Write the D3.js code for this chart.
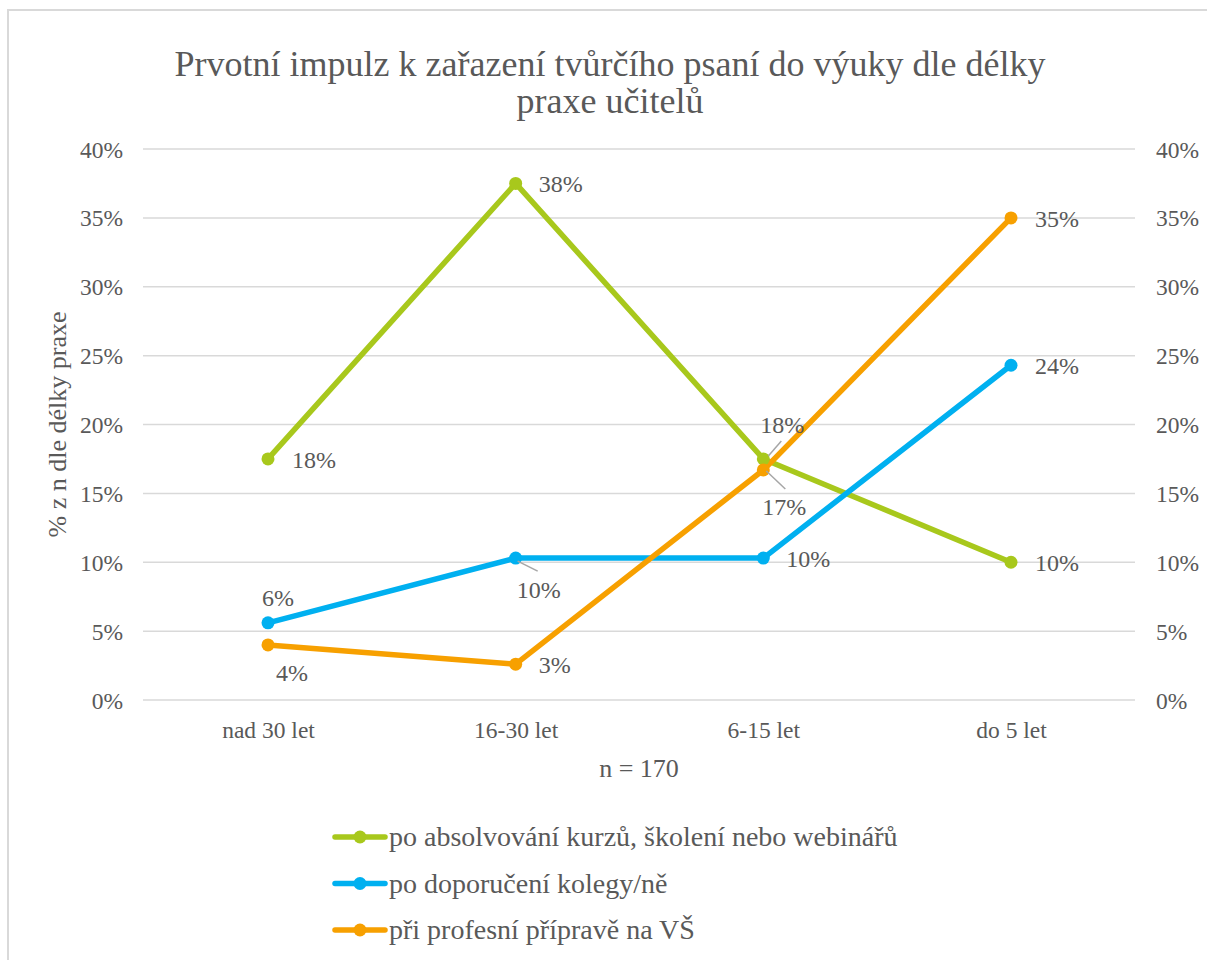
<!DOCTYPE html>
<html>
<head>
<meta charset="utf-8">
<script src="https://cdn.jsdelivr.net/npm/d3@7"></script>
</head>
<body style="margin:0; background:#fff">
<svg id="chart" width="1207" height="960"></svg>
<script>
// ---- data ----
const categories = ["nad 30 let", "16-30 let", "6-15 let", "do 5 let"];
const seriesNames = ["po absolvování kurzů, školení nebo webinářů", "po doporučení kolegy/ně", "při profesní přípravě na VŠ"];
const kurzy = [17.5, 37.5, 17.5, 10.0];
const kolega = [5.6, 10.3, 10.3, 24.3];
const vs = [4.0, 2.6, 16.7, 35.0];
const yTicks = [0, 5, 10, 15, 20, 25, 30, 35, 40];
const titleLines = ["Prvotní impulz k zařazení tvůrčího psaní do výuky dle délky", "praxe učitelů"];
const yTitle = "% z n dle délky praxe";
const xTitle = "n = 170";

// ---- layout / styling ----
const fontNames = ["Liberation Serif"];
const TXT = "#595959";
const colors = ["#a8c81c", "#00b0f0", "#f7a000"];
const series = [kurzy, kolega, vs];
// label placement per series per point: [dx, dy(baseline), anchor, leader [x1,y1,x2,y2] offsets or null]
const labelPlace = [
  [[24, 9, "start", null], [23, 9, "start", null], [19, -26, "middle", [5, -3, 18, -18]], [24, 9, "start", null]],
  [[10, -17, "middle", null], [23, 40, "middle", [2, 3, 22, 13]], [23, 9, "start", null], [24, 9, "start", null]],
  [[24, 36, "middle", null], [23, 9, "start", null], [21, 45, "middle", [3, 1, 22, 19]], [24, 9, "start", null]]
];

const svg = d3.select("#chart");

function styleText(sel, size) {
  return sel.style("font-family", `"${fontNames[0]}"`).attr("font-size", size).attr("fill", TXT);
}

// frame
svg.append("path")
  .attr("d", "M8,1000 L8,10 L1300,10")
  .attr("fill", "none").attr("stroke", "#d9d9d9").attr("stroke-width", 2);

const x = d3.scalePoint().domain(categories).range([268, 1011]);
const y = d3.scaleLinear().domain([0, 40]).range([700, 149]);
const plotLeft = 143, plotRight = 1135;

// gridlines
svg.append("g").selectAll("line").data(yTicks).join("line")
  .attr("x1", plotLeft).attr("x2", plotRight)
  .attr("y1", d => y(d)).attr("y2", d => y(d))
  .attr("stroke", "#d9d9d9").attr("stroke-width", 1.5);

// left axis
const yAxisL = d3.axisLeft(y).tickValues(yTicks).tickFormat(d => d + "%").tickSize(0).tickPadding(20);
const gL = svg.append("g").attr("transform", `translate(${plotLeft},0)`).call(yAxisL);
gL.attr("font-family", null);
gL.select(".domain").remove();
styleText(gL.selectAll("text"), 23.5).attr("dy", "0.34em");

// right axis
const yAxisR = d3.axisRight(y).tickValues(yTicks).tickFormat(d => d + "%").tickSize(0).tickPadding(21);
const gR = svg.append("g").attr("transform", `translate(${plotRight},0)`).call(yAxisR);
gR.attr("font-family", null);
gR.select(".domain").remove();
styleText(gR.selectAll("text"), 23.5).attr("dy", "0.34em");

// x axis
const xAxis = d3.axisBottom(x).tickSize(0).tickPadding(0);
const gX = svg.append("g").attr("transform", `translate(0,700)`).call(xAxis);
gX.attr("font-family", null);
gX.select(".domain").remove();
styleText(gX.selectAll("text"), 23.5).attr("dy", 0).attr("y", 38);

// title
styleText(svg.append("g").selectAll("text").data(titleLines).join("text"), 36)
  .attr("x", 610).attr("y", (d, i) => 76 + i * 37)
  .attr("text-anchor", "middle")
  .text(d => d);

// axis titles
styleText(svg.append("text"), 26).attr("x", (plotLeft + plotRight) / 2).attr("y", 777).attr("text-anchor", "middle").text(xTitle);
styleText(svg.append("text"), 26).attr("transform", `translate(66,${(y(0) + y(40)) / 2}) rotate(-90)`).attr("text-anchor", "middle").text(yTitle);

// lines
const line = d3.line().x((d, i) => x(categories[i])).y(d => y(d));
series.forEach((s, si) => {
  svg.append("path").datum(s).attr("d", line)
    .attr("fill", "none").attr("stroke", colors[si]).attr("stroke-width", 5.5)
    .attr("stroke-linejoin", "round").attr("stroke-linecap", "round");
});
series.forEach((s, si) => {
  svg.append("g").selectAll("circle").data(s).join("circle")
    .attr("cx", (d, i) => x(categories[i])).attr("cy", d => y(d)).attr("r", 6.5)
    .attr("fill", colors[si]);
});

// data labels
series.forEach((s, si) => {
  s.forEach((v, i) => {
    const px = x(categories[i]), py = y(v);
    const [dx, dy, anchor, leader] = labelPlace[si][i];
    if (leader) {
      svg.append("line")
        .attr("x1", px + leader[0]).attr("y1", py + leader[1])
        .attr("x2", px + leader[2]).attr("y2", py + leader[3])
        .attr("stroke", "#a6a6a6").attr("stroke-width", 1.5);
    }
    styleText(svg.append("text"), 24).attr("x", px + dx).attr("y", py + dy).attr("text-anchor", anchor)
      .text(Math.round(v) + "%");
  });
});

// legend
const legend = svg.append("g");
seriesNames.forEach((n, i) => {
  const ly = 837 + i * 46.5;
  legend.append("line").attr("x1", 335).attr("x2", 385).attr("y1", ly).attr("y2", ly)
    .attr("stroke", colors[i]).attr("stroke-width", 5.5).attr("stroke-linecap", "round");
  legend.append("circle").attr("cx", 360).attr("cy", ly).attr("r", 6.5).attr("fill", colors[i]);
  styleText(legend.append("text"), 28).attr("x", 389).attr("y", ly + 9).text(n);
});
</script>
</body>
</html>
